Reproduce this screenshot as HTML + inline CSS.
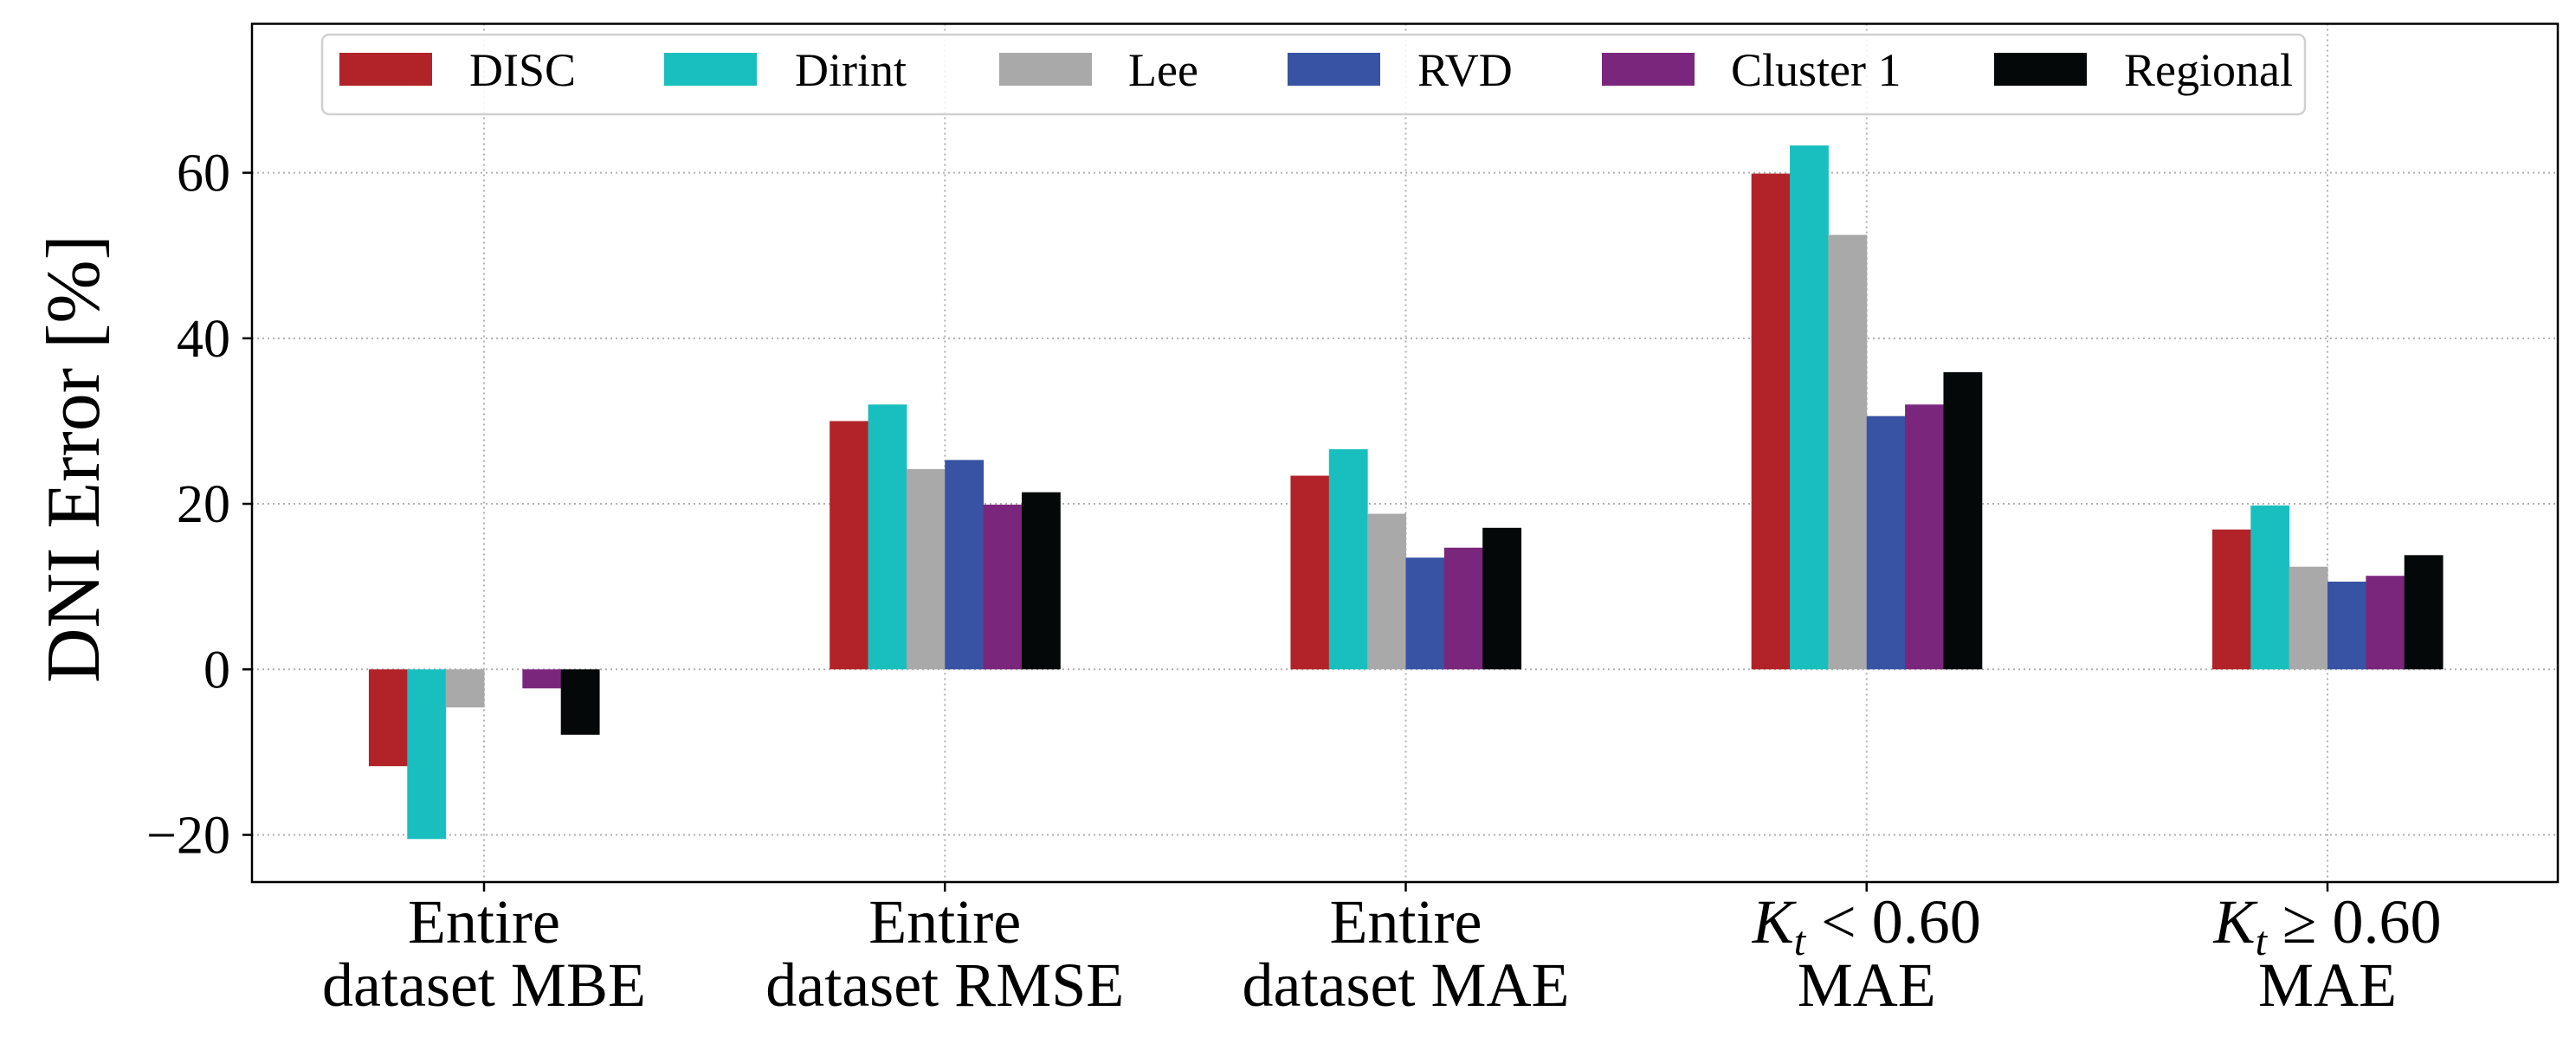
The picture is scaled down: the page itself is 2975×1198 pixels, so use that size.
<!DOCTYPE html>
<html><head><meta charset="utf-8"><style>
html,body{margin:0;padding:0;background:#fff;}
svg{display:block;font-family:"Liberation Serif","DejaVu Serif",serif;}
</style></head><body>
<svg id="chart" width="2975" height="1198" viewBox="0 0 2975 1198">
<g id="grid"></g>
<g id="bars"></g>
<rect x="291" y="27.5" width="2663" height="991.5" fill="none" stroke="#000" stroke-width="2.5"/>
<g id="yticks"></g>
<g id="xticks"></g>
<text transform="translate(114,530) rotate(-90)" text-anchor="middle" font-size="88">DNI Error [%]</text>
<g id="legend">
<rect x="372" y="40" width="2290" height="92" rx="8" fill="#fff" fill-opacity="0.85" stroke="#d0d0d0" stroke-width="2.5"/>
</g>
</svg>
<script>
const categories = [["Entire","dataset MBE"],["Entire","dataset RMSE"],["Entire","dataset MAE"],["Kt<","MAE"],["Kt>=","MAE"]];
const seriesNames = ["DISC","Dirint","Lee","RVD","Cluster 1","Regional"];
const seriesColors = ["#b12328","#19bfbf","#a9a9a9","#3853a4","#7b267d","#050808"];
const discVals = [-11.7, 30.0, 23.4, 59.9, 16.9];
const dirintVals = [-20.5, 32.0, 26.6, 63.3, 19.8];
const leeVals = [-4.6, 24.2, 18.8, 52.5, 12.4];
const rvdVals = [0, 25.3, 13.5, 30.6, 10.6];
const clusterVals = [-2.3, 19.9, 14.7, 32.0, 11.3];
const regionalVals = [-7.9, 21.4, 17.1, 35.9, 13.8];
const yTicks = [-20, 0, 20, 40, 60];
const legendPatchX = [392, 767, 1154, 1487, 1850, 2303];
const legendTextX = [542, 918, 1303, 1637, 1999, 2453];

const series = [discVals, dirintVals, leeVals, rvdVals, clusterVals, regionalVals];
const NS = "http://www.w3.org/2000/svg";
const yMin = -25.7, yMax = 78;
const plotTop = 27.5, plotBot = 1019;
function yPx(v){ return plotBot - (v - yMin) / (yMax - yMin) * (plotBot - plotTop); }
const firstCenter = 559, spacing = 532.25;
function xPx(i){ return firstCenter + i * spacing; }
const barW = spacing * 0.5 / 6;

function mk(tag, attrs, parent){
  const el = document.createElementNS(NS, tag);
  for (const k in attrs) el.setAttribute(k, attrs[k]);
  parent.appendChild(el);
  return el;
}
const grid = document.getElementById('grid');
const bars = document.getElementById('bars');
const yt = document.getElementById('yticks');
const xt = document.getElementById('xticks');
const lg = document.getElementById('legend');

yTicks.forEach(t => {
  const y = yPx(t);
  const g = mk('line', {x1:291, x2:2954, y1:y, y2:y, stroke:'#b0b0b0', 'stroke-width':2, 'stroke-dasharray':'2,4'}, grid);
  
  
  const tk = mk('line', {x1:280, x2:291, y1:y, y2:y, stroke:'#000', 'stroke-width':2.5}, yt);
  
  
  const lb = mk('text', {x:266, y:y+21, 'text-anchor':'end', 'font-size':62}, yt);
  lb.textContent = (t < 0 ? '\u2212' : '') + Math.abs(t);
  
  
});

categories.forEach((c, i) => {
  const x = xPx(i);
  const g = mk('line', {x1:x, x2:x, y1:plotTop, y2:plotBot, stroke:'#b0b0b0', 'stroke-width':2, 'stroke-dasharray':'2,4'}, grid);
  
  
  const tk = mk('line', {x1:x, x2:x, y1:plotBot, y2:plotBot+11, stroke:'#000', 'stroke-width':2.5}, xt);
  
  
  const t1 = mk('text', {x:x, y:1089, 'text-anchor':'middle', 'font-size':72}, xt);
  
  
  if (c[0] === 'Kt<' || c[0] === 'Kt>=') {
    t1.innerHTML = '<tspan font-style="italic">K</tspan><tspan font-style="italic" font-size="48" dy="14">t</tspan><tspan dy="-14"> ' + (c[0] === 'Kt<' ? '&lt;' : '\u2265') + ' 0.60</tspan>';
  } else {
    t1.textContent = c[0];
  }
  const t2 = mk('text', {x:x, y:1162, 'text-anchor':'middle', 'font-size':72}, xt);
  t2.textContent = c[1];
  
  
});

series.forEach((vals, s) => {
  vals.forEach((v, i) => {
    const x = xPx(i) - spacing * 0.25 + s * barW;
    const y0 = yPx(0), y1 = yPx(v);
    const r = mk('rect', {x:x, y:Math.min(y0, y1), width:barW + 0.5, height:Math.abs(y1 - y0), fill:seriesColors[s]}, bars);
    
    
  });
});

seriesNames.forEach((n, s) => {
  const p = mk('rect', {x:legendPatchX[s], y:61, width:107, height:38, fill:seriesColors[s]}, lg);
  
  
  const t = mk('text', {x:legendTextX[s], y:99, 'font-size':54}, lg);
  t.textContent = n;
  
  
});
</script>
</body></html>
